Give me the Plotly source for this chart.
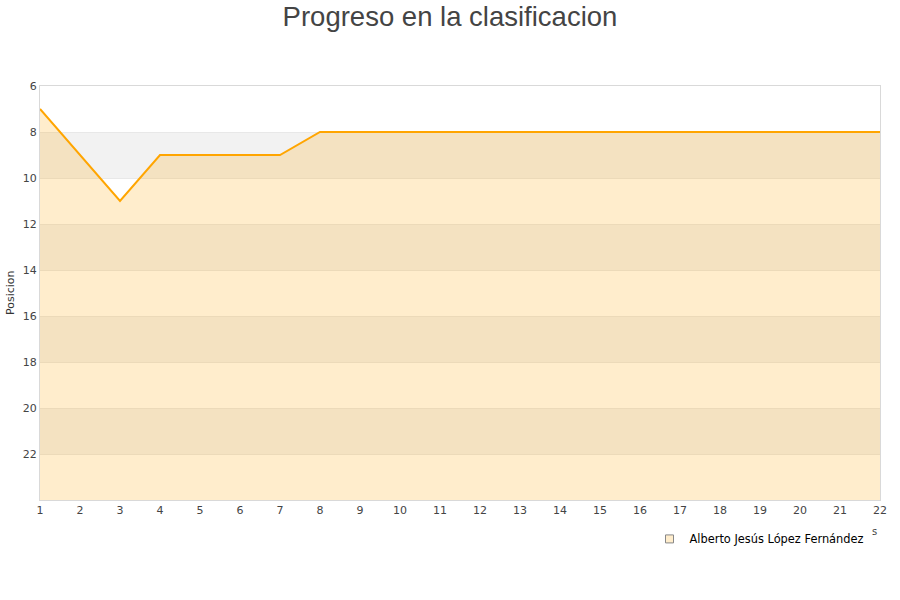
import plotly.graph_objects as go

jornadas = list(range(1, 23))
posiciones = [7, 9, 11, 9, 9, 9, 9, 8, 8, 8, 8, 8, 8, 8, 8, 8, 8, 8, 8, 8, 8, 8]
jugador = "Alberto Jesús López Fernández"
y_ticks = [6, 8, 10, 12, 14, 16, 18, 20, 22]
y_min, y_max = 6, 24

fig = go.Figure()

# alternating background bands
for lo in range(8, 24, 4):
    fig.add_shape(type="rect", xref="x", yref="y", x0=jornadas[0], x1=jornadas[-1],
                  y0=lo, y1=lo + 2, fillcolor="#f2f2f2", line_width=0, layer="below")

fig.add_trace(go.Scatter(x=jornadas, y=[y_max] * len(jornadas), mode="lines",
                         line=dict(width=0), hoverinfo="skip", showlegend=False))
fig.add_trace(go.Scatter(x=jornadas, y=posiciones, mode="lines", name=jugador,
                         line=dict(color="#FFA500", width=2), fill="tonexty",
                         fillcolor="rgba(255,165,0,0.2)", showlegend=False))
fig.add_trace(go.Scatter(x=[None], y=[None], mode="markers", name=jugador,
                         marker=dict(symbol="square", size=8, color="#FFEDCC",
                                     line=dict(color="#888888", width=1))))

fig.update_layout(
    width=900, height=600,
    paper_bgcolor="white", plot_bgcolor="white",
    font=dict(family="DejaVu Sans, Liberation Sans, sans-serif", color="#444444", size=11),
    title=dict(text="Progreso en la clasificacion", x=0.5, xanchor="center",
               yref="container", y=1 - 16 / 600, yanchor="middle",
               font=dict(family="Liberation Sans, Arial, sans-serif", size=27.5, color="#444444")),
    margin=dict(l=40, r=20, t=86, b=100, autoexpand=False),
    xaxis=dict(range=[jornadas[0], jornadas[-1]], tickmode="array", tickvals=jornadas,
               showgrid=False, zeroline=False, showline=True, linecolor="#d9d9d9", mirror=True,
               ticks="", automargin=False, tickfont=dict(size=11, color="#444444")),
    yaxis=dict(range=[y_max, y_min], tickmode="array", tickvals=y_ticks,
               showgrid=True, gridcolor="#e8e8e8", gridwidth=1, zeroline=False,
               showline=True, linecolor="#d9d9d9", mirror=True, ticks="", automargin=False,
               tickfont=dict(size=11, color="#444444")),
    legend=dict(orientation="h", x=0.9875, xanchor="right", y=-0.094, yanchor="middle",
                font=dict(size=11.4, color="#000000"), bgcolor="rgba(0,0,0,0)"),
)
fig.add_annotation(text="Posicion", xref="paper", yref="paper", x=-0.0357, y=0.5,
                   textangle=-90, showarrow=False, xanchor="center", yanchor="middle",
                   font=dict(size=11, color="#333333"))
fig.add_annotation(text="s", xref="paper", yref="paper", x=0.993, y=-0.075, showarrow=False,
                   font=dict(size=10, color="#444444"), xanchor="center", yanchor="middle")

fig.write_html("out.html", config={"displayModeBar": False},
               post_script="document.body.style.margin='0';")
